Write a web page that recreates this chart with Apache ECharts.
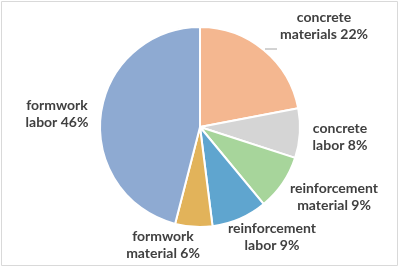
<!DOCTYPE html>
<html>
<head>
<meta charset="utf-8">
<script src="https://cdn.jsdelivr.net/npm/echarts@6/dist/echarts.min.js"></script>
<style>
html,body{margin:0;padding:0;background:#fff;}
#c{width:400px;height:269px;}
</style>
</head>
<body>
<div id="c"></div>
<script>
const categories = ['concrete materials', 'concrete labor', 'reinforcement material', 'reinforcement labor', 'formwork material', 'formwork labor'];
const values = [22, 8, 9, 9, 6, 46];
const colors = ['#F4B790', '#D5D5D5', '#A7D59B', '#5FA5CF', '#E2B35A', '#8EAAD2'];
// label centres (layout)
const labelPos = [[324, 26], [340, 137], [334, 197], [272, 237], [163, 245], [57, 114]];

const chart = echarts.init(document.getElementById('c'), null, {renderer: 'canvas'});
chart.setOption({
  animation: false,
  graphic: [
    {type: 'rect', shape: {x: 1.5, y: 1.5, width: 396, height: 264}, style: {fill: 'none', stroke: '#D9D9D9', lineWidth: 1}},
    {type: 'line', shape: {x1: 265, y1: 49, x2: 277, y2: 49}, style: {stroke: '#A6A6A6', lineWidth: 1}}
  ],
  series: [{
    type: 'pie',
    center: [200, 127],
    radius: [0, 100],
    startAngle: 90,
    clockwise: true,
    data: categories.map((n, i) => ({name: n, value: values[i], itemStyle: {color: colors[i]}})),
    itemStyle: {borderColor: '#fff', borderWidth: 2},
    label: {
      show: true,
      position: 'outside',
      alignTo: 'none',
      overflow: 'none',
      width: 200,
      formatter: p => p.name.replace(' ', '\n') + ' ' + p.value + '%',
      fontFamily: 'Lato',
      fontWeight: 'bold',
      fontSize: 14,
      lineHeight: 17,
      color: '#404040',
      align: 'center'
    },
    labelLine: {show: false},
    labelLayout: p => ({x: labelPos[p.dataIndex][0], y: labelPos[p.dataIndex][1], align: 'center', verticalAlign: 'middle', hideOverlap: false})
  }]
});
</script>
</body>
</html>
